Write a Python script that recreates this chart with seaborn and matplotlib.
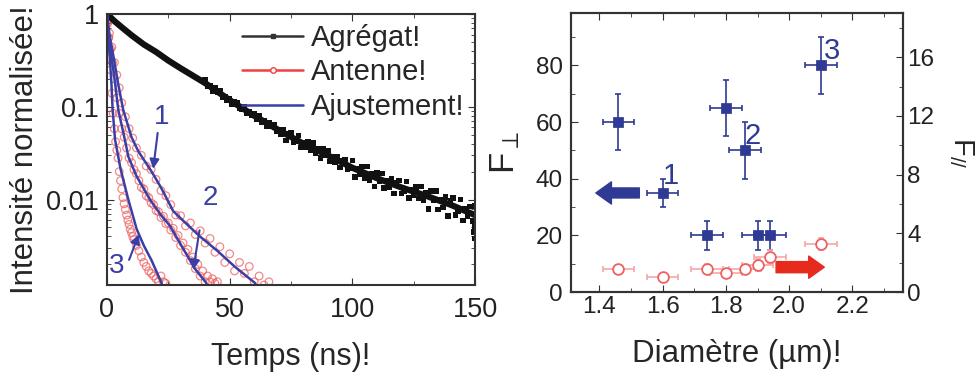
"""Decay curves (left) and enhancement factors vs diameter (right)."""

import matplotlib
matplotlib.use("Agg")
import matplotlib.pyplot as plt
import seaborn as sns
from matplotlib.lines import Line2D
from matplotlib.ticker import LogLocator, MultipleLocator, NullFormatter

# ---- left panel: normalised intensity vs time ----
agg_t = [0, 3, 6, 10, 15, 20, 25, 30, 40, 50, 60, 70, 80, 90, 100, 110, 120, 130, 140, 150]
agg_i = [1.0, 0.84, 0.72, 0.59, 0.47, 0.39, 0.315, 0.26, 0.18, 0.118, 0.08, 0.056, 0.04,
         0.03, 0.022, 0.017, 0.0135, 0.011, 0.0088, 0.0068]

# noisy photon counts of the aggregate, t = 40 ... 150 ns
agg_noise_t = list(range(40, 151)) + [149.5, 150, 149.8]
agg_noise_i = [
    0.193, 0.1654, 0.1689, 0.1475, 0.1596, 0.1438, 0.1486, 0.1265, 0.1294, 0.1189,
    0.1230, 0.1056, 0.1123, 0.1109, 0.0961, 0.0952, 0.1000, 0.0842, 0.0877, 0.0809,
    0.0839, 0.0740, 0.0797, 0.0689, 0.0709, 0.0623, 0.0678, 0.0615, 0.0640, 0.0548,
    0.0568, 0.0503, 0.0568, 0.0435, 0.0517, 0.0526, 0.0413, 0.0424, 0.0488, 0.0362,
    0.0411, 0.0367, 0.0415, 0.0336, 0.0406, 0.0317, 0.0351, 0.0281, 0.0349, 0.0300,
    0.0338, 0.0258, 0.0286, 0.0254, 0.0287, 0.0221, 0.0263, 0.0268, 0.0211, 0.0217,
    0.0264, 0.0175, 0.0217, 0.0188, 0.0226, 0.0170, 0.0226, 0.0162, 0.0190, 0.0139,
    0.0194, 0.0159, 0.0191, 0.0134, 0.0158, 0.0137, 0.0166, 0.0116, 0.0152, 0.0160,
    0.0116, 0.0124, 0.0156, 0.0104, 0.0129, 0.0112, 0.0136, 0.0103, 0.0138, 0.00986,
    0.01186, 0.00796, 0.01243, 0.00975, 0.01241, 0.00779, 0.00987, 0.00819, 0.01064,
    0.00666, 0.00972, 0.01036, 0.00684, 0.00751, 0.01000, 0.00593, 0.00793, 0.00659,
    0.00846, 0.00589, 0.00857, 0.0045, 0.0038, 0.0052]

ant1_t = [0.3, 1, 2, 3, 4, 5, 6, 7.5, 9, 10.5, 12, 14, 16, 18, 20, 22, 24, 26, 28, 30, 32, 34,
          36, 38, 40, 42, 44, 46, 48, 50, 52, 54, 56, 58, 60, 62, 64, 66]
ant1_i = [0.88, 0.62, 0.44, 0.3, 0.22, 0.16, 0.11, 0.078, 0.058, 0.046, 0.036, 0.03, 0.023,
          0.021, 0.0165, 0.0125, 0.011, 0.0088, 0.0068, 0.0067, 0.0052, 0.0056, 0.0042, 0.0046,
          0.0034, 0.0038, 0.0027, 0.0031, 0.0021, 0.0026, 0.0017, 0.0021, 0.0016, 0.0019,
          0.0013, 0.0015, 0.0012, 0.0013]

ant2_t = [0.3, 0.8, 1.5, 2.2, 3, 4, 5, 6, 7, 8, 9, 10, 11, 12, 13, 14, 15, 16, 17, 18, 19, 20,
          21, 22, 23, 24, 25, 26, 27, 28, 29, 30, 31, 32, 33, 34, 35, 36, 37, 38, 39, 40, 41,
          42, 43, 44, 45]
ant2_i = [0.82, 0.56, 0.42, 0.3, 0.2, 0.125, 0.085, 0.058, 0.047, 0.036, 0.028, 0.025, 0.021,
          0.019, 0.016, 0.0135, 0.013, 0.011, 0.0105, 0.0092, 0.0088, 0.0076, 0.0074, 0.0064,
          0.0066, 0.0055, 0.0056, 0.0047, 0.0049, 0.0039, 0.0041, 0.0032, 0.0034, 0.0027,
          0.0029, 0.0022, 0.0024, 0.0018, 0.002, 0.0015, 0.0017, 0.0013, 0.0015, 0.0013,
          0.0014, 0.00125, 0.0013]

ant3_t = [0.2, 0.6, 1, 1.5, 2, 2.5, 3, 3.5, 4, 4.5, 5, 5.5, 6, 6.5, 7, 7.5, 8, 8.5, 9, 9.5,
          10, 10.5, 11, 12, 13, 14, 15, 16, 17, 18, 19, 20, 21, 22, 23, 24]
ant3_i = [0.78, 0.55, 0.4, 0.25, 0.14, 0.085, 0.058, 0.042, 0.034, 0.028, 0.02, 0.016, 0.013,
          0.0105, 0.009, 0.0078, 0.0068, 0.006, 0.0054, 0.0048, 0.0044, 0.004, 0.0037, 0.0032,
          0.0028, 0.0024, 0.0021, 0.0019, 0.0017, 0.0016, 0.0015, 0.0014, 0.0013, 0.0015,
          0.0013, 0.00125]

fit1_t = [0, 1, 2.9, 4.5, 6.6, 10, 12.8, 18.2, 22, 27, 32, 37.9, 45, 52, 60.5]
fit1_i = [1.0, 0.6, 0.32, 0.18, 0.093, 0.047, 0.033, 0.02, 0.0135, 0.0075, 0.0056, 0.004,
          0.0028, 0.0019, 0.00125]
fit2_t = [0, 0.7, 2.0, 3.3, 4.6, 7.3, 8.7, 12, 17.5, 22, 25.7, 30, 35.8, 40.6]
fit2_i = [1.0, 0.6, 0.32, 0.18, 0.093, 0.044, 0.029, 0.018, 0.010, 0.0068, 0.0052, 0.0033,
          0.0018, 0.00125]
fit3_t = [0, 0.5, 1.2, 1.8, 2.3, 3.3, 4.6, 5.6, 7, 8.7, 12.1, 15, 18.2, 22.3]
fit3_i = [1.0, 0.6, 0.32, 0.18, 0.093, 0.044, 0.029, 0.021, 0.015, 0.010, 0.0048, 0.0032,
          0.0022, 0.00125]

# ---- right panel: enhancement factors vs antenna diameter ----
perp_d = [1.46, 1.60, 1.74, 1.80, 1.86, 1.90, 1.94, 2.10]
perp_f = [60, 35, 20, 65, 50, 20, 20, 80]
perp_err = [10, 5, 5, 10, 10, 5, 5, 10]
para_d = [1.46, 1.60, 1.74, 1.80, 1.86, 1.90, 1.94, 2.10]
para_f = [1.6, 1.04, 1.6, 1.33, 1.6, 1.83, 2.4, 3.25]
para_err = [0.2, 0.2, 0.3, 0.2, 0.3, 0.4, 0.5, 0.4]
d_err = 0.05

BLUE = '#2f3a94'
FIT_BLUE = '#3a3fa6'
RED = '#ef6060'
RED_LIGHT = '#f5a8a8'
ARROW_RED = '#e62a1e'

sns.set_style("ticks")
plt.rcParams['font.family'] = ['Liberation Sans', 'DejaVu Sans']
plt.rcParams['mathtext.fontset'] = 'custom'
plt.rcParams['mathtext.rm'] = 'Liberation Sans'
plt.rcParams['mathtext.it'] = 'Liberation Sans:italic'
plt.rcParams['axes.edgecolor'] = '#333333'
plt.rcParams['axes.linewidth'] = 1.5

fig = plt.figure(figsize=(9.77, 3.74), dpi=100)
ax1 = fig.add_axes([0.1095, 0.238, 0.3767, 0.7246])
ax2 = fig.add_axes([0.5844, 0.219, 0.3398, 0.746])
ax3 = ax2.twinx()

# Left panel
ax1.set_yscale('log')
sns.lineplot(x=agg_t, y=agg_i, ax=ax1, color='#111111', lw=4.5, sort=False, estimator=None)
sns.scatterplot(x=agg_noise_t, y=agg_noise_i, ax=ax1, marker='s', s=16,
                color='#111111', edgecolor='none')
for t, i in [(ant1_t, ant1_i), (ant2_t, ant2_i), (ant3_t, ant3_i)]:
    sns.scatterplot(x=t, y=i, ax=ax1, marker='o', s=30, facecolors='none',
                    edgecolor=RED, linewidth=0.9, alpha=0.75)
for t, i in [(fit1_t, fit1_i), (fit2_t, fit2_i), (fit3_t, fit3_i)]:
    sns.lineplot(x=t, y=i, ax=ax1, color=FIT_BLUE, lw=1.8, sort=False, estimator=None)

ax1.set_xlim(0, 150)
ax1.set_ylim(1.2e-3, 1.0)
ax1.set_xticks([0, 50, 100, 150])
ax1.xaxis.set_minor_locator(MultipleLocator(25))
ax1.set_yticks([0.01, 0.1, 1])
ax1.set_yticklabels(['0.01', '0.1', '1'])
ax1.yaxis.set_minor_locator(LogLocator(subs=range(2, 10)))
ax1.yaxis.set_minor_formatter(NullFormatter())
ax1.tick_params(which='both', direction='in', top=True, right=True, color='#333333')
ax1.tick_params(which='major', length=5, labelsize=19.5, pad=9, labelcolor='#222222')
ax1.tick_params(which='minor', length=3)
ax1.tick_params(axis='y', which='major', pad=6)
ax1.set_xlabel('Temps (ns)!', fontsize=22, labelpad=13)
ax1.set_ylabel('Intensité normalisée!', fontsize=22.5, labelpad=4)

handles = [
    Line2D([], [], color='#333333', lw=1.8, marker='s', markersize=3),
    Line2D([], [], color='#f04040', lw=1.8, marker='o', markersize=4,
           markerfacecolor='white'),
    Line2D([], [], color=FIT_BLUE, lw=1.8),
]
ax1.legend(handles, ['Agrégat!', 'Antenne!', 'Ajustement!'], loc='upper left',
           bbox_to_anchor=(0.367, 0.963), frameon=False, fontsize=21, numpoints=1,
           handlelength=2.1, handletextpad=0.25, labelspacing=0.22,
           borderpad=0, borderaxespad=0)

arrow_kw = dict(arrowstyle='-|>', color=FIT_BLUE, lw=1.5, mutation_scale=14)
ax1.annotate('', xy=(18.7, 0.020), xytext=(20.8, 0.056), arrowprops=arrow_kw)
ax1.annotate('', xy=(35, 0.00164), xytext=(37.9, 0.005), arrowprops=arrow_kw)
ax1.annotate('', xy=(13.4, 0.0045), xytext=(8.6, 0.0021), arrowprops=arrow_kw)
for label, t, i in [('1', 22.4, 0.078), ('2', 42, 0.0105), ('3', 4, 0.0019)]:
    ax1.text(t, i, label, color=FIT_BLUE, fontsize=20, ha='center', va='center')

# Right panel
ax2.errorbar(perp_d, perp_f, xerr=d_err, yerr=perp_err, fmt='none', ecolor=BLUE,
             elinewidth=1.2, capsize=2, capthick=1.2, zorder=2)
sns.scatterplot(x=perp_d, y=perp_f, ax=ax2, marker='s', s=45, color=BLUE,
                edgecolor=BLUE, zorder=3)
ax3.errorbar(para_d, para_f, xerr=d_err, yerr=para_err, fmt='none', ecolor=RED_LIGHT,
             elinewidth=1.2, capsize=2, capthick=1.2, zorder=2)
sns.scatterplot(x=para_d, y=para_f, ax=ax3, marker='o', s=60, facecolors='white',
                edgecolor=RED, linewidth=1.3, zorder=3)

ax2.set_xlim(1.31, 2.36)
ax2.set_ylim(0, 98.5)
ax3.set_ylim(0, 19)
ax2.set_xticks([1.4, 1.6, 1.8, 2.0, 2.2])
ax2.set_xticklabels(['1.4', '1.6', '1.8', '2.0', '2.2'])
ax2.xaxis.set_minor_locator(MultipleLocator(0.1))
ax2.set_yticks([0, 20, 40, 60, 80])
ax2.yaxis.set_minor_locator(MultipleLocator(10))
ax3.set_yticks([0, 4, 8, 12, 16])
ax3.yaxis.set_minor_locator(MultipleLocator(2))
ax2.tick_params(which='both', direction='in', top=True, color='#333333')
ax2.tick_params(which='major', length=5, labelsize=17.5, labelcolor='#222222')
ax2.tick_params(axis='x', which='major', pad=3)
ax2.tick_params(axis='y', which='major', pad=6)
ax2.tick_params(which='minor', length=3)
ax3.tick_params(which='both', direction='in', color='#333333')
ax3.tick_params(which='major', length=5, labelsize=17.5, pad=3, labelcolor='#222222')
ax3.tick_params(which='minor', length=3)

ax2.set_xlabel('Diamètre (µm)!', fontsize=22.5, labelpad=15)
ax2.set_ylabel(r'F$_\perp$', fontsize=25, labelpad=10)
ax3.set_ylabel(r'F$_{//}$', fontsize=21, rotation=270, va='bottom', labelpad=9)

ax2.annotate('', xy=(1.38, 35), xytext=(1.535, 35),
             arrowprops=dict(arrowstyle='simple,head_length=0.7,head_width=1.0,tail_width=0.45',
                             color=BLUE, mutation_scale=16))
ax2.annotate('', xy=(2.12, 8.8), xytext=(1.95, 8.8),
             arrowprops=dict(arrowstyle='simple,head_length=0.7,head_width=1.0,tail_width=0.5',
                             color=ARROW_RED, mutation_scale=16))
for label, d, f in [('1', 1.625, 41), ('2', 1.885, 55), ('3', 2.135, 85)]:
    ax2.text(d, f, label, color=BLUE, fontsize=21, ha='center', va='center')

fig.savefig('out.png', dpi=100)
